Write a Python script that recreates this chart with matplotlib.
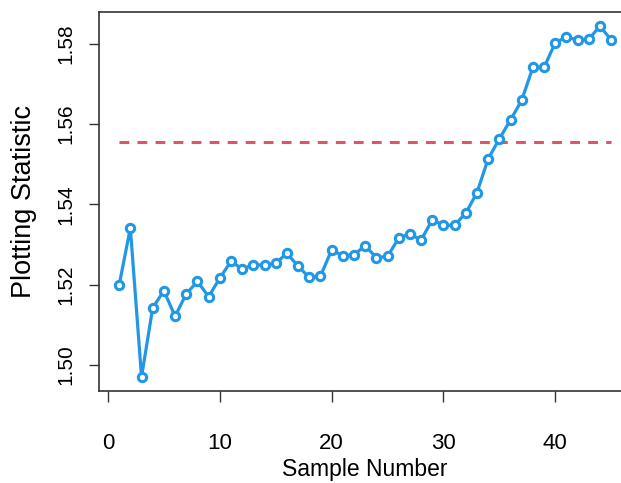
import numpy as np
import matplotlib
matplotlib.use("Agg")
import matplotlib.pyplot as plt

# plotting statistic for each sample
sample = np.arange(1, 46)
stat = [1.5199, 1.5341, 1.4970, 1.5142, 1.5185, 1.5121, 1.5177, 1.5208, 1.5170, 1.5216,
        1.5258, 1.5239, 1.5249, 1.5249, 1.5253, 1.5278, 1.5246, 1.5218, 1.5221, 1.5286,
        1.5272, 1.5274, 1.5297, 1.5267, 1.5270, 1.5316, 1.5326, 1.5311, 1.5361, 1.5348,
        1.5348, 1.5378, 1.5429, 1.5513, 1.5563, 1.5610, 1.5659, 1.5741, 1.5741, 1.5802,
        1.5817, 1.5809, 1.5811, 1.5844, 1.5809]
limit = 1.5556

xticks = [0, 10, 20, 30, 40]
yticks = [1.50, 1.52, 1.54, 1.56, 1.58]

plt.rcParams['font.family'] = ['Liberation Sans', 'DejaVu Sans']

fig = plt.figure(figsize=(6.21, 4.83), dpi=100)
ax = fig.add_axes([0.1602, 0.1905, 0.8556, 0.7847])

ax.plot(sample, stat, color="#2297E6", lw=2.3, marker="o", ms=6,
        mfc="white", mec="#2297E6", mew=2.2, zorder=3)
ax.plot([sample[0], sample[-1]], [limit, limit], color="#DF536B", lw=2.2,
        dashes=(3.2, 2.7), zorder=2)

ax.margins(x=0.04, y=0.04)

for s in ax.spines.values():
    s.set_color("#333333")
    s.set_linewidth(1.2)

ax.set_xticks(xticks)
ax.set_xticklabels([str(t) for t in xticks], fontsize=16)
ax.set_yticks(yticks)
ax.set_yticklabels(["%.2f" % t for t in yticks], rotation=90, va="center", fontsize=15)
ax.tick_params(axis="x", direction="out", length=8, width=1, color="#333333", pad=22)
ax.tick_params(axis="y", direction="out", length=7.5, width=1, color="#333333", pad=10)

ax.set_xlabel("Sample Number", fontsize=16.5)
ax.xaxis.set_label_coords(0.5, -0.206)
ax.xaxis.label.set_va("center")
ax.set_ylabel("Plotting Statistic", fontsize=19.5)
ax.yaxis.set_label_coords(-0.142, 0.5)
ax.yaxis.label.set_va("center")

fig.savefig("out.png", dpi=100)
